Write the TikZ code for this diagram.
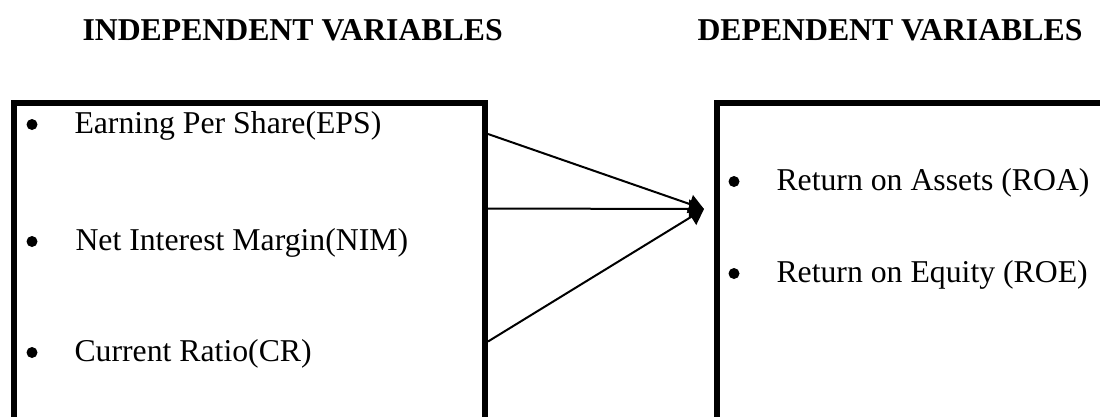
\documentclass[tikz,border=0pt]{standalone}
\usepackage{fontspec}
\setmainfont{Liberation Serif}
\usetikzlibrary{arrows.meta,calc}
\begin{document}
\begin{tikzpicture}[x=0.4pt,y=-0.4pt,
  box/.style={draw,line width=2.4pt,rectangle,inner sep=0pt,anchor=north west},
  head/.style={anchor=base west,inner sep=0pt,font=\fontsize{12.7pt}{15pt}\selectfont\bfseries},
  item/.style={anchor=base west,inner sep=0pt,font=\fontsize{12.7pt}{15pt}\selectfont},
  dot/.style={circle,fill,inner sep=0pt,minimum size=4.4pt},
  link/.style={line width=0.8pt,-{Triangle[length=6pt,width=7.5pt]}}]
\useasboundingbox (0,0) rectangle (1100,416);
\clip (0,0) rectangle (1100,416);
% headings
\node[head] (hin) at (82,40) {INDEPENDENT VARIABLES};
\node[head] (hde) at (697,40) {DEPENDENT VARIABLES};
% boxes
\node[box,minimum width=188.4pt,minimum height=160pt] (lbox) at (11,99.5) {};
\node[box,minimum width=200pt,minimum height=160pt] (rbox) at (713.5,99.5) {};
% left items
\node[dot] (b1) at (32,124.5) {};
\node[item] (eps) at (74,133) {Earning Per Share(EPS)};
\node[dot] (b2) at (32,241.5) {};
\node[item] (nim) at (75,250) {Net Interest Margin(NIM)};
\node[dot] (b3) at (32,352.5) {};
\node[item] (cr) at (74,361) {Current Ratio(CR)};
% right items
\node[dot] (b4) at (734,181.5) {};
\node[item] (roa) at (776,190) {Return on Assets (ROA)};
\node[dot] (b5) at (734,273.5) {};
\node[item] (roe) at (776,282) {Return on Equity (ROE)};
% connectors
\coordinate (tip) at (704,209);
\coordinate (s1) at ($(lbox.north east)+(0,34.5)$);
\coordinate (s2) at ($(lbox.north east)+(0,109)$);
\coordinate (s3) at ($(lbox.north east)+(0,242)$);
\draw[link] (s1) -- (tip);
\draw[link] (s2) -- (tip);
\draw[link] (s3) -- (tip);
\end{tikzpicture}
\end{document}
